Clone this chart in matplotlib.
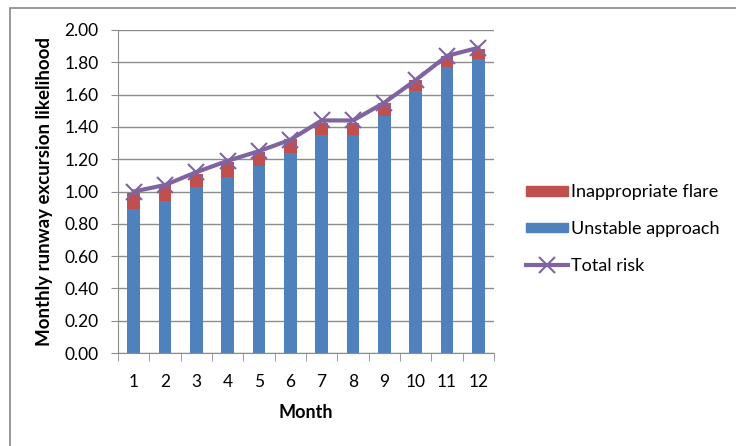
import matplotlib
matplotlib.use("Agg")
import matplotlib.pyplot as plt
import numpy as np
from matplotlib.patches import Patch, Rectangle
from matplotlib.lines import Line2D

plt.rcParams['font.family'] = ['Lato', 'DejaVu Sans']

# Data
months = [1, 2, 3, 4, 5, 6, 7, 8, 9, 10, 11, 12]
unstable = [0.89, 0.94, 1.03, 1.09, 1.16, 1.24, 1.35, 1.35, 1.47, 1.62, 1.77, 1.82]
flare = [0.10, 0.10, 0.08, 0.095, 0.085, 0.085, 0.075, 0.075, 0.075, 0.07, 0.07, 0.065]
total = [1.00, 1.04, 1.12, 1.19, 1.25, 1.32, 1.44, 1.44, 1.55, 1.69, 1.84, 1.89]
ytick_vals = [0.0, 0.2, 0.4, 0.6, 0.8, 1.0, 1.2, 1.4, 1.6, 1.8, 2.0]

BLUE = "#4F81BD"
RED = "#C0504D"
PURPLE = "#8064A2"
GRID = "#8C8C8C"

fig = plt.figure(figsize=(7.36, 4.46), dpi=100)
ax = fig.add_axes([118/736, 1 - 353/446, 376/736, 323/446])

x = np.array(months)
ax.bar(x, unstable, width=0.4, color=BLUE, zorder=2)
ax.bar(x, flare, width=0.4, bottom=unstable, color=RED, zorder=2)
ax.plot(x, total, color=PURPLE, lw=3, marker="x", markersize=12,
        markeredgewidth=1.5, zorder=3)

ax.set_xlim(0.5, 12.5)
ax.set_ylim(0, 2.0)
ax.set_yticks(ytick_vals)
ax.set_yticklabels([f"{v:.2f}" for v in ytick_vals])
ax.set_xticks(x)
ax.set_xticklabels([str(m) for m in months])
ax.set_xticks(np.arange(0.5, 13, 1), minor=True)
ax.tick_params(axis="x", which="major", length=0, pad=15, labelsize=12.5)
ax.tick_params(axis="x", which="minor", length=6, color=GRID)
ax.tick_params(axis="y", length=5, color=GRID, pad=9, labelsize=12.5)

ax.yaxis.grid(True, color=GRID, lw=1)
ax.set_axisbelow(True)
for s in ["top", "right"]:
    ax.spines[s].set_visible(False)
for s in ["left", "bottom"]:
    ax.spines[s].set_color(GRID)

ax.set_ylabel("Monthly runway excursion likelihood", fontsize=13.5, fontweight="bold", labelpad=8)
ax.set_xlabel("Month", fontsize=13, fontweight="bold", labelpad=10)

handles = [Patch(color=RED), Patch(color=BLUE),
           Line2D([], [], color=PURPLE, lw=3, marker="x", markersize=12, markeredgewidth=1.5)]
labels = ["Inappropriate flare", "Unstable approach", "Total risk"]
fig.legend(handles, labels, loc="upper left", bbox_to_anchor=(510/736, 1 - 168/446),
           frameon=False, fontsize=13, handlelength=2.3, handleheight=0.45,
           handletextpad=0.2, labelspacing=1.15)

# chart border
fig.patches.append(Rectangle((10/736, -0.1), 1.2, 1.1 - 8/446, transform=fig.transFigure,
                             fill=False, edgecolor="#888888", lw=1.2))

fig.savefig("out.png", dpi=100)
